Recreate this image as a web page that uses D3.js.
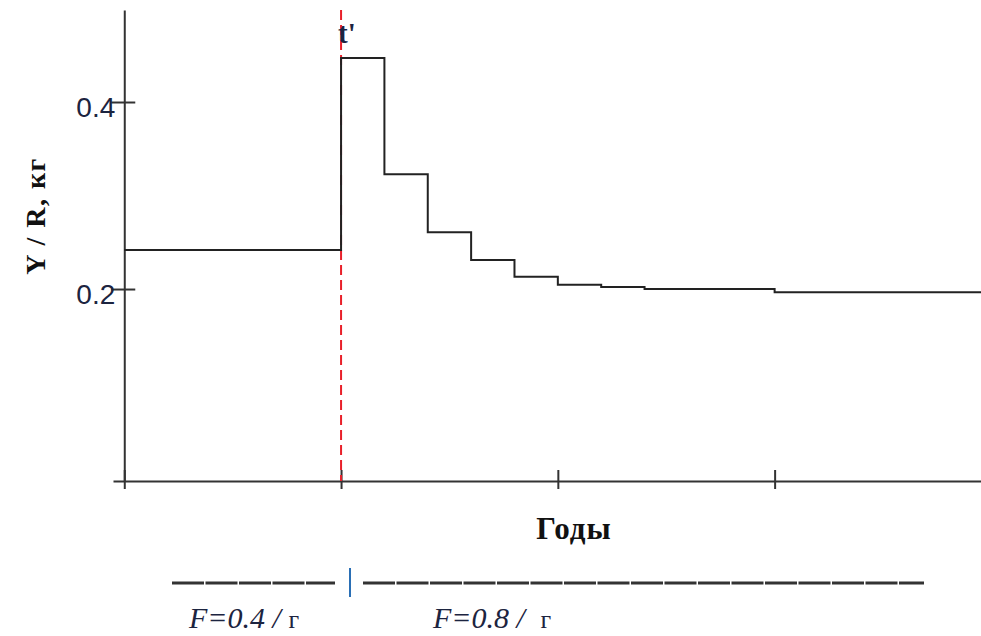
<!DOCTYPE html>
<html>
<head>
<meta charset="utf-8">
<script src="https://cdn.jsdelivr.net/npm/d3@7"></script>
<style>
  body { margin: 0; background: #fff; }
  svg { display: block; }
  .serif { font-family: "Liberation Serif", "Times New Roman", serif; }
</style>
</head>
<body>
<svg id="chart" width="981" height="636"></svg>
<script>
// step breakpoints (years) and Y/R values for each step
const years = [0, 5, 6, 7, 8, 9, 10, 11, 12, 15];
const yieldPerRecruit = [0.2417, 0.447, 0.3227, 0.2606, 0.231, 0.2131, 0.2046, 0.2021, 0.2, 0.1965];
const xEnd = 19.76;
const xTicks = [0, 5, 10, 15];
const yTicks = [0.2, 0.4];
const tPrime = 5;
const legendLabels = ["F=0.4 / ", "F=0.8 / "];
const legendUnit = "г";

const svg = d3.select("#chart");

var x = d3.scaleLinear().domain([-0.26, xEnd]).range([113, 981]);
var y = d3.scaleLinear().domain([-0.0053, 0.4984]).range([481, 10]);

// x axis, ticks crossing the line, no labels
var xAxisG = svg.append("g")
  .attr("transform", "translate(0," + y(-0.0053) + ")")
  .call(d3.axisBottom(x).tickValues(xTicks).tickSize(8).tickSizeOuter(0).tickFormat(""));
xAxisG.select(".domain").attr("stroke", "#333").attr("stroke-width", 2);
xAxisG.selectAll(".tick line").attr("y1", -11).attr("y2", 8).attr("stroke", "#333").attr("stroke-width", 2);

// y axis
var yAxisG = svg.append("g")
  .attr("transform", "translate(" + x(0) + ",0)")
  .call(d3.axisLeft(y).tickValues(yTicks).tickSize(13).tickSizeOuter(0).tickFormat(d3.format(".1f")));
yAxisG.select(".domain").attr("stroke", "#333").attr("stroke-width", 2);
yAxisG.selectAll(".tick line").attr("x1", 11).attr("x2", -13).attr("stroke", "#333").attr("stroke-width", 2);
yAxisG.selectAll(".tick text")
  .attr("x", -9)
  .attr("dy", "0.5em")
  .attr("fill", "#1c2440")
  .style("font-family", "'Liberation Sans', Arial, sans-serif")
  .style("font-size", "28px");

// red dashed line at t'
svg.append("line")
  .attr("x1", x(tPrime)).attr("x2", x(tPrime))
  .attr("y1", y(0.4984)).attr("y2", y(-0.0053))
  .attr("stroke", "#e8202a")
  .attr("stroke-width", 2)
  .attr("stroke-dasharray", "10,5");

// step line
var pts = years.map((d, i) => [d, yieldPerRecruit[i]]);
pts.push([xEnd, yieldPerRecruit[yieldPerRecruit.length - 1]]);
var line = d3.line()
  .x(d => x(d[0]))
  .y(d => y(d[1]))
  .curve(d3.curveStepAfter);
svg.append("path")
  .datum(pts)
  .attr("d", line)
  .attr("fill", "none")
  .attr("stroke", "#222")
  .attr("stroke-width", 2);

svg.append("text")
  .attr("class", "serif")
  .attr("x", x(tPrime) - 3)
  .attr("y", 43)
  .attr("fill", "#1c2440")
  .style("font-size", "29px")
  .style("font-weight", "bold")
  .text("t'");

// axis titles
svg.append("text")
  .attr("class", "serif")
  .attr("transform", "translate(45,216) rotate(-90)")
  .attr("text-anchor", "middle")
  .style("font-size", "28px")
  .style("font-weight", "bold")
  .style("letter-spacing", "1.5px")
  .attr("fill", "#111")
  .text("Y / R, кг");

svg.append("text")
  .attr("class", "serif")
  .attr("x", 574)
  .attr("y", 539)
  .attr("text-anchor", "middle")
  .style("font-size", "31px")
  .style("font-weight", "bold")
  .style("letter-spacing", "1px")
  .attr("fill", "#111")
  .text("Годы");

// legend underneath: two fishing-mortality periods
var legend = svg.append("g");
[[172, 335], [363, 924]].forEach(function (seg) {
  legend.append("line")
    .attr("x1", seg[0]).attr("x2", seg[1])
    .attr("y1", 583).attr("y2", 583)
    .attr("stroke", "#333")
    .attr("stroke-width", 3)
    .attr("stroke-dasharray", "32,1.5");
});
legend.append("line")
  .attr("x1", 350).attr("x2", 350)
  .attr("y1", 568).attr("y2", 597)
  .attr("stroke", "#2a6fb5")
  .attr("stroke-width", 2);

[189, 433].forEach(function (lx, i) {
  var t = legend.append("text")
    .attr("class", "serif")
    .attr("x", lx)
    .attr("y", 628)
    .attr("fill", "#1c2440")
    .style("font-size", "30px");
  t.append("tspan").style("font-style", "italic").text(legendLabels[i]);
  t.append("tspan").attr("dx", i === 1 ? 8 : 0).style("font-size", "26px").text(legendUnit);
});
</script>
</body>
</html>
